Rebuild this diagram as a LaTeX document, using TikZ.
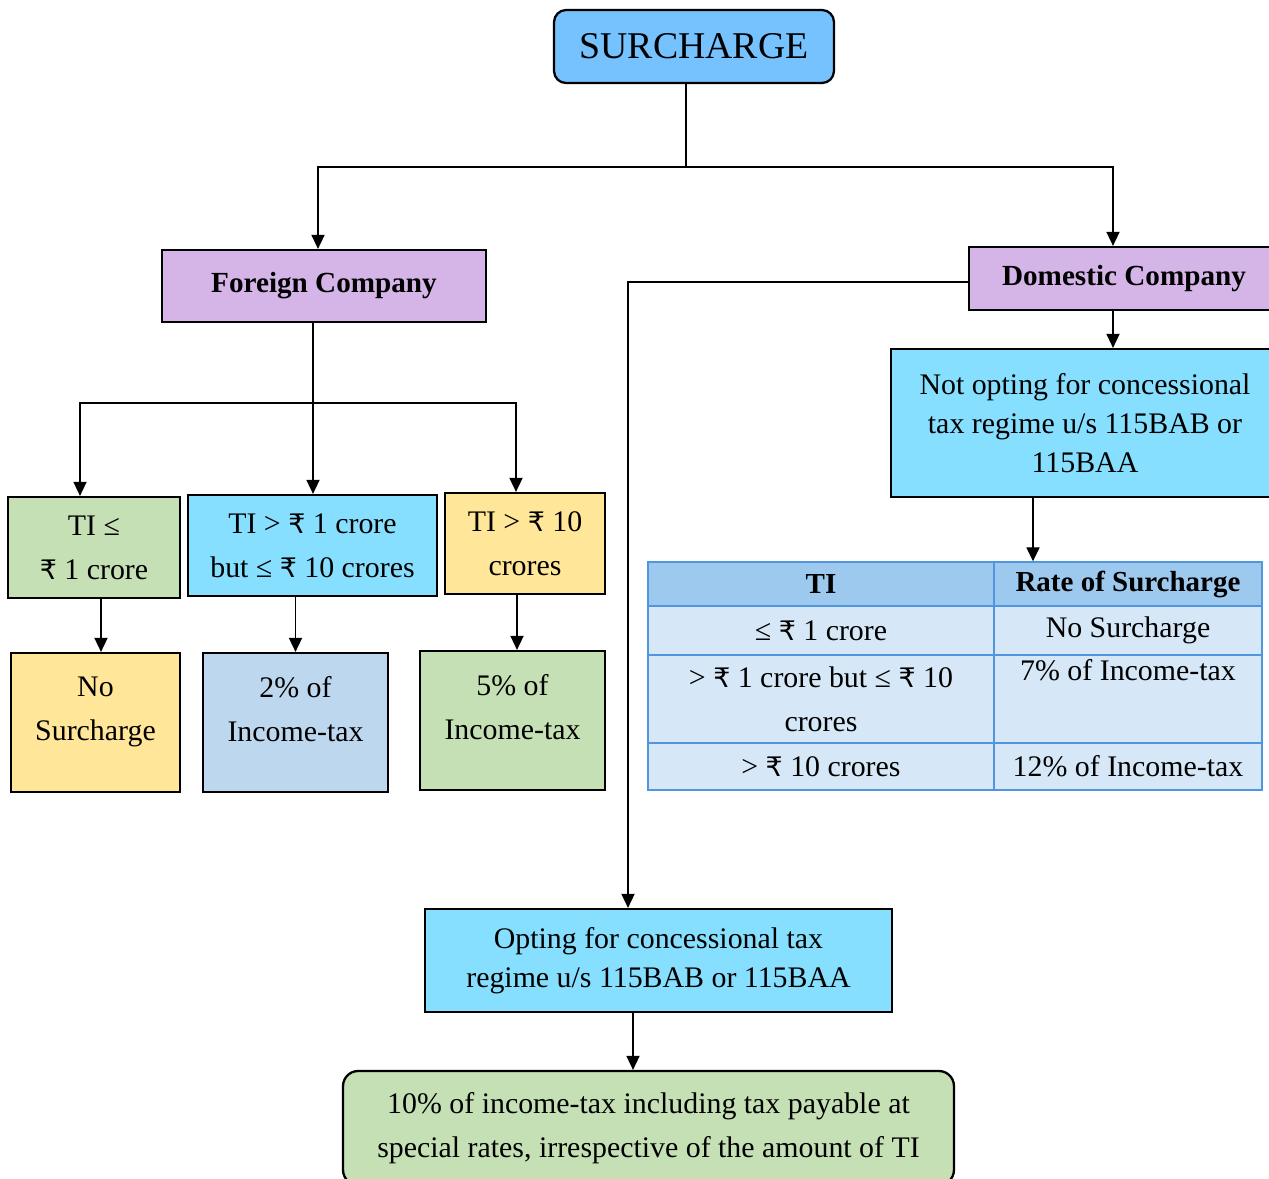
\documentclass[tikz,border=0pt]{standalone}
\usepackage{fontspec}
\setmainfont{Liberation Serif}
\newfontfamily\rupfont[Scale=0.9]{DejaVu Sans}
\usetikzlibrary{arrows.meta,positioning,shapes}
\newcommand{\Rs}{{\rupfont ₹}}
\definecolor{surblue}{RGB}{117,194,254}
\definecolor{lilac}{RGB}{213,181,232}
\definecolor{skyblue}{RGB}{134,223,254}
\definecolor{leaf}{RGB}{197,224,180}
\definecolor{sand}{RGB}{255,230,153}
\definecolor{pale}{RGB}{189,215,238}
\definecolor{tabhead}{RGB}{157,201,238}
\definecolor{tabbody}{RGB}{214,232,247}
\definecolor{tabline}{RGB}{79,150,222}

\begin{document}
\begin{tikzpicture}[x=0.02cm,y=-0.02cm]
	\tikzstyle{box}
	  =[draw, line width=1.3pt, rectangle, align=center, inner sep=0pt,
	  font=\fontsize{17}{25}\selectfont]
	\tikzstyle{ratebox}
	  =[box, minimum width=3.7cm, minimum height=2.78cm, text depth=0.55cm]
	\tikzstyle{cell}
	  =[draw=tabline, line width=0.8pt, fill=tabbody, rectangle, align=center,
	  inner sep=0pt, font=\fontsize{17}{25}\selectfont]
	\tikzstyle{conn}=[line width=0.7pt]
	\tikzstyle{arr}=[conn, -{Triangle[width=7.5pt,length=8pt]}]

	\useasboundingbox (0,0) rectangle (1269,1178);

	\node[box, rounded corners=0.24cm, fill=surblue, minimum width=5.6cm,
	  minimum height=1.46cm, font=\fontsize{21.5}{26}\selectfont] (sur)
	  at (694,46.5) {SURCHARGE};

	% foreign side
	\node[box, fill=lilac, minimum width=6.48cm, minimum height=1.44cm,
	  font=\bfseries\fontsize{16.6}{20}\selectfont] (foreign)
	  at (324,286) {Foreign Company};
	\node[box, fill=leaf, minimum width=3.44cm, minimum height=2.02cm] (ti1)
	  at (94,547.5) {TI ≤\\ \Rs{} 1 crore};
	\node[box, fill=skyblue, minimum width=4.98cm, minimum height=2.02cm] (ti2)
	  at (312.5,545.5) {TI > \Rs{} 1 crore\\ but ≤ \Rs{} 10 crores};
	\node[box, fill=sand, minimum width=3.2cm, minimum height=2.02cm] (ti3)
	  at (525,543.5) {TI > \Rs{} 10\\ crores};
	\node[ratebox, fill=sand, minimum width=3.38cm] (r1)
	  at (95.5,722.5) {No\\ Surcharge};
	\node[ratebox, fill=pale] (r2)
	  at (295.5,722.5) {2\% of\\ Income-tax};
	\node[ratebox, fill=leaf] (r3)
	  at (512.5,720.5) {5\% of\\ Income-tax};

	% domestic side
	\node[box, fill=lilac, minimum width=6.2cm, minimum height=1.26cm,
	  font=\bfseries\fontsize{16.6}{20}\selectfont] (domestic)
	  at (1124,278.5) {Domestic Company};
	\node[box, fill=skyblue, minimum width=7.76cm, minimum height=2.96cm,
	  font=\fontsize{17}{22}\selectfont] (notopt)
	  at (1085,423) {Not opting for concessional\\ tax regime u/s 115BAB or\\ 115BAA};
	\node[box, fill=skyblue, minimum width=9.34cm, minimum height=2.06cm,
	  font=\fontsize{17}{22}\selectfont] (opting)
	  at (658.5,960.5) {Opting for concessional tax\\ regime u/s 115BAB or 115BAA};
	\node[box, rounded corners=0.3cm, fill=leaf, minimum width=12.22cm,
	  minimum height=2.28cm] (final)
	  at (648.5,1128) {10\% of income-tax including tax payable at\\ special rates, irrespective of the amount of TI};

	% table
	\node[cell, fill=tabhead, minimum width=6.92cm, minimum height=0.88cm,
	  font=\bfseries\fontsize{16.5}{20}\selectfont] (hti)
	  at (821,584) {TI};
	\node[cell, fill=tabhead, minimum width=5.36cm, minimum height=0.88cm,
	  font=\bfseries\fontsize{16.5}{20}\selectfont] (hrate)
	  at (1128,584) {Rate of Surcharge};
	\node[cell, minimum width=6.92cm, minimum height=0.98cm] (a1)
	  at (821,630.5) {≤ \Rs{} 1 crore};
	\node[cell, minimum width=5.36cm, minimum height=0.98cm] (b1)
	  at (1128,630.5) {No Surcharge};
	\node[cell, minimum width=6.92cm, minimum height=1.76cm] (a2)
	  at (821,699) {> \Rs{} 1 crore but ≤ \Rs{} 10\\ crores};
	\node[cell, minimum width=5.36cm, minimum height=1.76cm] (b2)
	  at (1128,699) {7\% of Income-tax\\ \strut};
	\node[cell, minimum width=6.92cm, minimum height=0.94cm] (a3)
	  at (821,766.5) {> \Rs{} 10 crores};
	\node[cell, minimum width=5.36cm, minimum height=0.94cm] (b3)
	  at (1128,766.5) {12\% of Income-tax};

	% connectors
	\coordinate (topjoin) at (686,167);
	\coordinate (forjoin) at (313,403);
	\draw[conn] (sur.south -| topjoin) -- (topjoin);
	\draw[arr] (topjoin) -| ([xshift=-0.12cm]foreign.north);
	\draw[arr] (topjoin) -| ([xshift=-0.22cm]domestic.north);
	\draw[conn] (foreign.south -| forjoin) -- (forjoin);
	\draw[arr] (forjoin) -- (forjoin |- ti2.north);
	\draw[arr] (forjoin) -| ([xshift=-0.28cm]ti1.north);
	\draw[arr] (forjoin) -| ([xshift=-0.18cm]ti3.north);
	\draw[arr] ([xshift=0.14cm]ti1.south) -- ([xshift=0.14cm]ti1.south |- r1.north);
	\draw[arr] (r2.north |- ti2.south) -- (r2.north);
	\draw[arr] ([xshift=0.09cm]r3.north |- ti3.south) -- ([xshift=0.09cm]r3.north);
	\draw[arr] ([xshift=-0.22cm]domestic.south) -- ([xshift=-0.22cm]domestic.south |- notopt.north);
	\draw[arr] ([xshift=-1.04cm]notopt.south) -- ([xshift=-1.04cm]notopt.south |- hti.north);
	\draw[arr] ([yshift=-0.07cm]domestic.west) -| ([xshift=-0.61cm]opting.north);
	\draw[arr] ([xshift=-0.31cm]final.north |- opting.south) -- ([xshift=-0.31cm]final.north);
\end{tikzpicture}
\end{document}
